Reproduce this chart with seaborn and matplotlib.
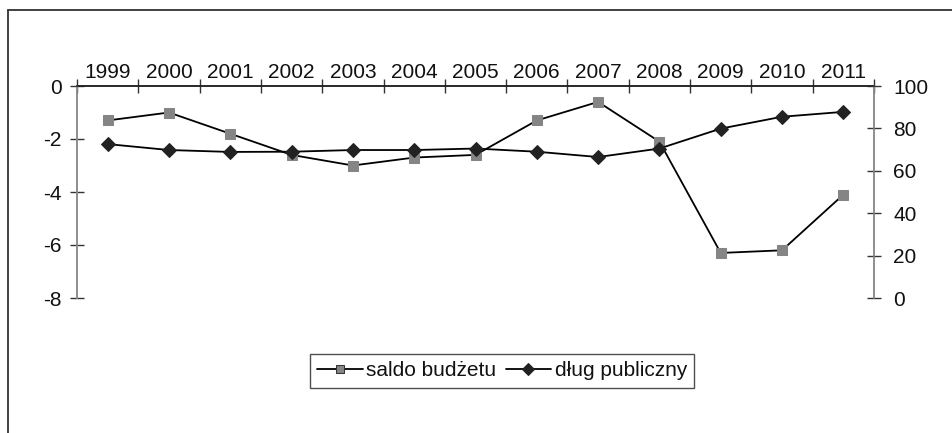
import matplotlib
matplotlib.use("Agg")
import matplotlib.pyplot as plt
from matplotlib.lines import Line2D
import seaborn as sns
import pandas as pd

years = [1999, 2000, 2001, 2002, 2003, 2004, 2005, 2006, 2007, 2008, 2009, 2010, 2011]
saldo = [-1.3, -1.0, -1.8, -2.6, -3.0, -2.7, -2.6, -1.3, -0.6, -2.1, -6.3, -6.2, -4.1]
dlug = [72.6, 69.8, 68.9, 69.0, 69.8, 69.8, 70.5, 69.0, 66.5, 70.5, 79.9, 85.5, 87.8]
left_ticks = [-8, -6, -4, -2, 0]
right_ticks = [0, 20, 40, 60, 80, 100]
label_saldo = "saldo budżetu"
label_dlug = "dług publiczny"

df = pd.DataFrame({"rok": years, "saldo": saldo, "dlug": dlug})

sns.set_theme(style="white")
plt.rcParams["font.family"] = ["Liberation Sans", "DejaVu Sans"]
plt.rcParams["axes.unicode_minus"] = False

W, H = 953, 433
fig = plt.figure(figsize=(W / 100, H / 100), dpi=100)
ax = fig.add_axes([77 / W, 1 - 298 / H, (874 - 77) / W, (298 - 86) / H])
ax2 = ax.twinx()

sns.lineplot(data=df, x="rok", y="saldo", ax=ax, color="black", linewidth=1.3,
             marker="s", markersize=7, markerfacecolor="#858585",
             markeredgecolor="#858585", label=label_saldo)
sns.lineplot(data=df, x="rok", y="dlug", ax=ax2, color="black", linewidth=1.3,
             marker="D", markersize=7.5, markerfacecolor="#222222",
             markeredgecolor="#222222", label=label_dlug)

for a in (ax, ax2):
    if a.get_legend() is not None:
        a.get_legend().remove()
    a.set_xlabel("")
    a.set_ylabel("")
    a.grid(False)

ax.set_ylim(min(left_ticks), max(left_ticks))
ax.set_yticks(left_ticks)
ax.set_yticklabels([str(t) for t in left_ticks])
ax2.set_ylim(min(right_ticks), max(right_ticks))
ax2.set_yticks(right_ticks)
ax2.set_yticklabels([str(t) for t in right_ticks])

ax.set_xlim(years[0] - 0.5, years[-1] + 0.5)
bounds = [y - 0.5 for y in years] + [years[-1] + 0.5]
ax.set_xticks(bounds)
ax.set_xticklabels([""] * len(bounds))
ax.set_xticks(years, minor=True)
ax.set_xticklabels([str(y) for y in years], minor=True)
ax.xaxis.tick_top()
ax.tick_params(axis="x", which="major", direction="inout", length=10, width=1,
               color="#333333", top=True, bottom=False)
ax.tick_params(axis="x", which="minor", length=0, pad=3, labelsize=15,
               labelcolor="#111111", top=True, bottom=False, labeltop=True, labelbottom=False)

ax.tick_params(axis="y", direction="inout", length=10, width=1, color="#333333",
               pad=6, labelsize=15, labelcolor="#111111", left=True)
ax2.tick_params(axis="y", direction="inout", length=10, width=1, color="#333333",
                pad=9, labelsize=15, labelcolor="#111111", right=True)

for a in (ax, ax2):
    a.spines["bottom"].set_visible(False)
    a.spines["top"].set_visible(True)
    a.spines["top"].set_color("#222222")
    a.spines["top"].set_linewidth(1.1)
    a.spines["left"].set_color("#8a8a8a")
    a.spines["right"].set_color("#8a8a8a")
    a.spines["left"].set_linewidth(1.1)
    a.spines["right"].set_linewidth(1.1)
    a.patch.set_visible(False)

# legend
h1, l1 = ax.get_legend_handles_labels()
h2, l2 = ax2.get_legend_handles_labels()
leg = fig.legend(h1 + h2, l1 + l2, loc="center", bbox_to_anchor=(502 / W, 1 - 371 / H),
                 ncol=2, frameon=True, fancybox=False, edgecolor="#222222",
                 fontsize=15, handlelength=2.2, handletextpad=0.15, columnspacing=0.45,
                 borderpad=0.35, borderaxespad=0)
leg.get_frame().set_linewidth(1.0)
for t in leg.get_texts():
    t.set_color("#111111")
lh = leg.legend_handles
lh[0].set_markeredgecolor("#333333")
lh[0].set_markersize(6)
lh[1].set_markersize(6)

# outer border (top and left visible)
fig.add_artist(Line2D([8 / W, 1.0], [1 - 10 / H, 1 - 10 / H], transform=fig.transFigure,
                      color="#333333", linewidth=1.3))
fig.add_artist(Line2D([8 / W, 8 / W], [0.0, 1 - 10 / H], transform=fig.transFigure,
                      color="#333333", linewidth=1.3))

fig.savefig("out.png", dpi=100)
